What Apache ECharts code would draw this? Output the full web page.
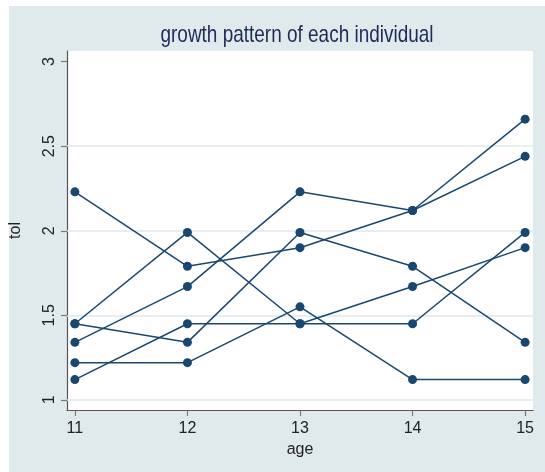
<!DOCTYPE html>
<html>
<head>
<meta charset="utf-8">
<script src="https://cdn.jsdelivr.net/npm/echarts@6/dist/echarts.min.js"></script>
<style>
  html, body { margin: 0; padding: 0; background: #ffffff; }
  #chart { width: 545px; height: 472px; }
</style>
</head>
<body>
<div id="chart"></div>
<script>
// Ages at which tolerance was measured
const ages = [11, 12, 13, 14, 15];

// Tolerance scores, one array per individual
const id9   = [2.23, 1.79, 1.90, 2.12, 2.66];
const id45  = [1.12, 1.45, 1.45, 1.45, 1.99];
const id268 = [1.45, 1.34, 1.99, 1.79, 1.34];
const id314 = [1.22, 1.22, 1.55, 1.12, 1.12];
const id442 = [1.45, 1.99, 1.45, 1.67, 1.90];
const id514 = [1.34, 1.67, 2.23, 2.12, 2.44];

const individuals = [id9, id45, id268, id314, id442, id514];

// Axis ticks and horizontal grid lines
const xTicks = [11, 12, 13, 14, 15];
const yTicks = [1, 1.5, 2, 2.5, 3];
const yGrid = [1, 1.5, 2, 2.5];

const titleText = 'growth pattern of each individual';

const lineColor = '#1a476f';
const font = '"Liberation Sans", Arial, sans-serif';

const series = individuals.map((vals, i) => {
  const s = {
    type: 'line',
    data: ages.map((a, k) => [a, vals[k]]),
    symbol: 'circle',
    symbolSize: 9,
    showSymbol: true,
    itemStyle: { color: lineColor },
    lineStyle: { color: lineColor, width: 1.5 },
    emphasis: { disabled: true },
    z: 3
  };
  if (i === 0) {
    s.markLine = {
      silent: true,
      symbol: ['none', 'none'],
      label: { show: false },
      lineStyle: { color: '#dfe9ec', width: 1.5, type: 'solid' },
      data: yGrid.map(v => ({ yAxis: v })),
      z: 1
    };
  }
  return s;
});

const chart = echarts.init(document.getElementById('chart'), null, { renderer: 'canvas' });
chart.setOption({
  backgroundColor: '#ffffff',
  animation: false,
  graphic: [
    {
      type: 'rect',
      z: -100,
      silent: true,
      shape: { x: 9, y: 6, width: 536, height: 466 },
      style: { fill: '#e0eaec' }
    },
    {
      // condensed title text
      type: 'text',
      x: 297,
      y: 35,
      scaleX: 0.79,
      silent: true,
      z: 10,
      style: {
        text: titleText,
        font: '24px "Liberation Sans", Arial, sans-serif',
        fill: '#1f2b56',
        textAlign: 'center',
        textVerticalAlign: 'middle'
      }
    }
  ],
  grid: {
    left: 63, right: 12, top: 51, bottom: 62,
    show: true,
    backgroundColor: '#ffffff',
    borderWidth: 0
  },
  xAxis: {
    type: 'value',
    min: 10.93,
    max: 15.07,
    name: 'age',
    nameLocation: 'middle',
    nameGap: 26,
    nameTextStyle: { fontFamily: font, fontSize: 16, color: '#222222' },
    axisLine: { show: true, onZero: false, lineStyle: { color: '#555555', width: 1.2 } },
    axisTick: { show: true, length: 6, customValues: xTicks, lineStyle: { color: '#777777', width: 1.2 } },
    axisLabel: { customValues: xTicks, margin: 11, fontFamily: font, fontSize: 16, color: '#222222' },
    splitLine: { show: false }
  },
  yAxis: {
    type: 'value',
    min: 0.94,
    max: 3.063,
    name: 'tol',
    nameLocation: 'middle',
    nameRotate: 90,
    nameGap: 43,
    nameTextStyle: { fontFamily: font, fontSize: 16, color: '#222222' },
    axisLine: { show: true, onZero: false, lineStyle: { color: '#555555', width: 1.2 } },
    axisTick: { show: true, length: 6, customValues: yTicks, lineStyle: { color: '#777777', width: 1.2 } },
    axisLabel: {
      customValues: yTicks,
      rotate: 90,
      margin: 9,
      fontFamily: font, fontSize: 16, color: '#222222',
      formatter: v => String(v)
    },
    splitLine: { show: false }
  },
  series: series
});
</script>
</body>
</html>
